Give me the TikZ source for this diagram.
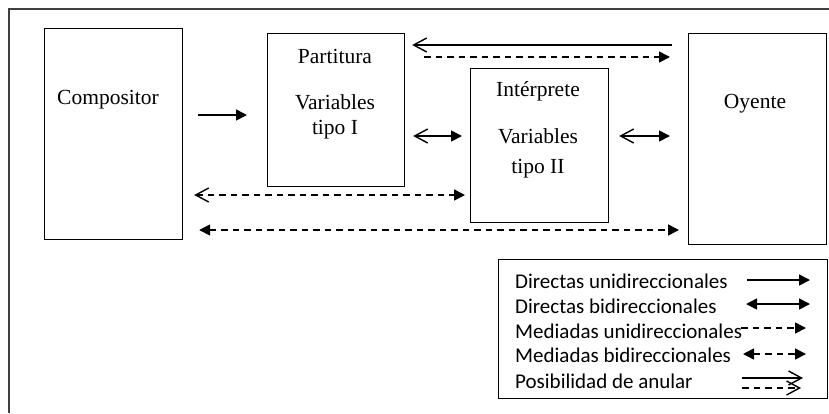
\documentclass[tikz,border=0pt]{standalone}
\usepackage{fontspec}
\setmainfont{Liberation Serif}
\newfontfamily\legfont{Carlito}
\usetikzlibrary{arrows.meta,calc}
\tikzset{
  ft/.tip={Triangle[length=11pt,width=11pt]},
  ob/.tip={Straight Barb[length=13pt,width=14pt,line width=1.4pt]}
}
\begin{document}
\begin{tikzpicture}[x=1pt,y=-1pt,
  box/.style={draw=black,line width=1.2pt,rectangle,inner sep=0pt,anchor=north west},
  lbl/.style={font=\fontsize{21.5}{25}\selectfont,align=center,inner sep=0pt},
  leg/.style={font=\legfont\fontsize{21}{24}\selectfont,anchor=west,inner sep=0pt},
  conn/.style={line width=1.6pt},
  dsh/.style={conn,dash pattern=on 6.5pt off 5pt}
]
\useasboundingbox (0,0) rectangle (829,413);
\draw[line width=1.6pt,draw=black!75] (829,9) -- (9,9) -- (9,413);

\node[box,minimum width=138pt,minimum height=211pt] (comp) at (44,28) {};
\node[box,minimum width=137pt,minimum height=153pt] (part) at (267,33) {};
\node[box,minimum width=138pt,minimum height=154pt] (inter) at (470,68) {};
\node[box,minimum width=138pt,minimum height=211pt] (oye) at (688,33) {};
\node[box,minimum width=329pt,minimum height=139pt] (legend) at (498,259) {};

\node[lbl] (tcomp) at (108,100) {Compositor};
\node[lbl] (tpart) at (335,56) {Partitura};
\node[lbl] (tvar1) at (335,117) {Variables\\tipo I};
\node[lbl] (tint) at (538,91) {Intérprete};
\node[lbl] (tvar2) at (538,153) {Variables\\[5pt]tipo II};
\node[lbl] (toye) at (755,104) {Oyente};

% connectors
\draw[conn,-{ft},shorten <=15pt,shorten >=20pt] (comp.east |- 0,115) -- (part.west |- 0,115);
\draw[conn,-{ob},shorten <=16pt,shorten >=7pt] (oye.west |- 0,45) -- (part.east |- 0,45);
\draw[dsh,-{ft},shorten <=19pt,shorten >=18pt] (part.east |- 0,57) -- (oye.west |- 0,57);
\draw[conn,{ob}-{ft},shorten <=8pt,shorten >=8pt] (part.east |- 0,136) -- (inter.west |- 0,136);
\draw[conn,{ob}-{ft},shorten <=10pt,shorten >=18pt] (inter.east |- 0,136) -- (oye.west |- 0,136);
\draw[dsh,{ob}-{ft},shorten <=11pt,shorten >=5pt] (comp.east |- 0,195) -- (inter.west |- 0,195);
\draw[dsh,{ft}-{ft},shorten <=16pt,shorten >=9pt] (comp.east |- 0,230) -- (oye.west |- 0,230);

% legend
\node[leg] (l1) at (515,281) {Directas unidireccionales};
\node[leg] (l2) at (515,306) {Directas bidireccionales};
\node[leg] (l3) at (515,331) {Mediadas unidireccionales};
\node[leg] (l4) at (515,355) {Mediadas bidireccionales};
\node[leg] (l5) at (515,381) {Posibilidad de anular};

\draw[conn,-{ft}] (747,280) -- (810,280);
\draw[conn,{ft}-{ft}] (746,304) -- (810,304);
\draw[dsh,-{ft}] (741,328) -- (806,328);
\draw[dsh,{ft}-{ft}] (743,354) -- (806,354);
\draw[conn,-{ob}] (742,378) -- (803,378);
\draw[dsh,-{ob}] (742,388) -- (801,388);
\end{tikzpicture}
\end{document}
